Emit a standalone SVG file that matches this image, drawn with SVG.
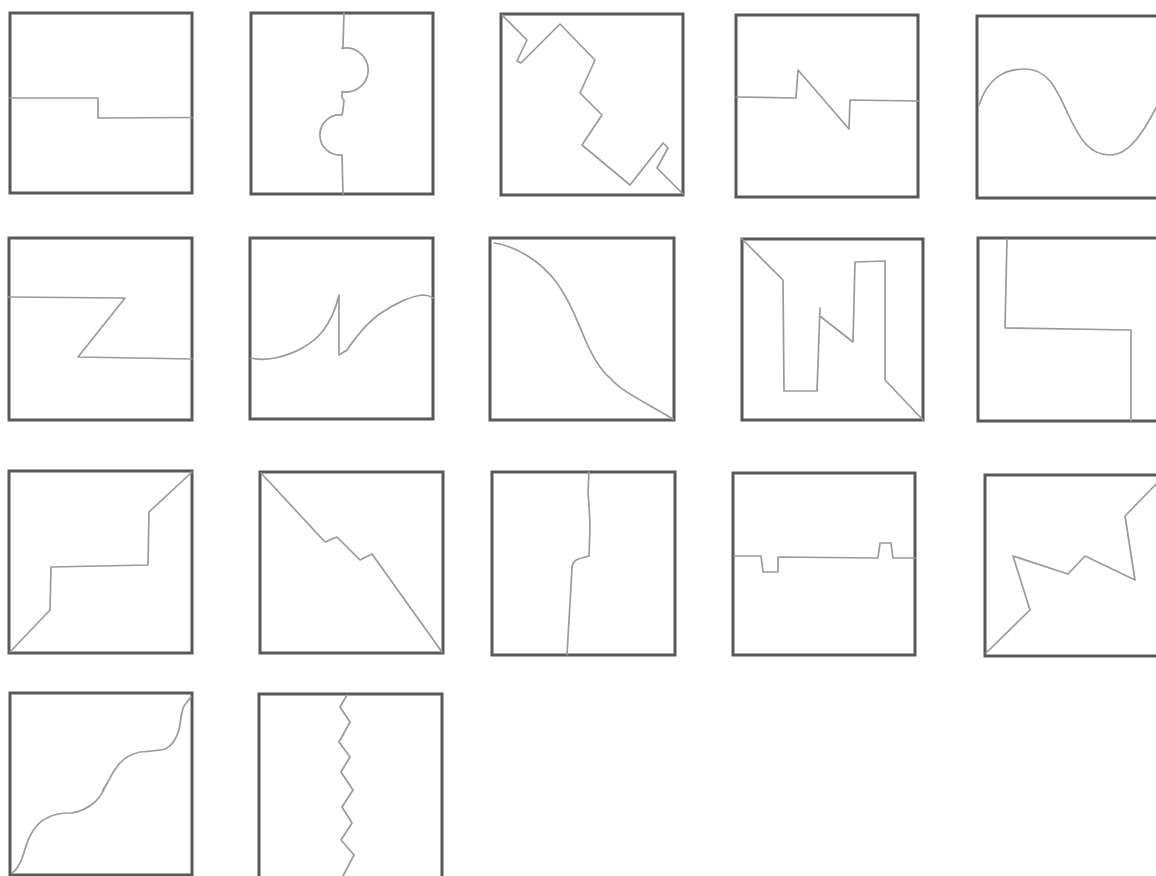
<svg xmlns="http://www.w3.org/2000/svg" width="1156" height="876" viewBox="0 0 1156 876">
<style>
.box{fill:none;stroke:#585858;stroke-width:3}
.ln{fill:none;stroke:#9a9a9a;stroke-width:1.7;stroke-linejoin:round;stroke-linecap:round}
</style>
<rect width="1156" height="876" fill="#ffffff"/>
<g id="sq1"><rect class="box" x="10" y="13" width="182" height="180"/>
<path class="ln" d="M10,98 L98,98 L98,118 L192,117.5"/></g>
<g id="sq2"><rect class="box" x="251" y="13" width="182" height="181"/>
<path class="ln" d="M344,13 L343,46 L342,48.4 A22,22 0 1 1 342,91.6 L342,98 L344,100 L343,110 L342,115 A20.1,20.1 0 1 0 342,155 L343,194"/></g>
<g id="sq3"><rect class="box" x="501" y="14" width="182" height="181"/>
<path class="ln" d="M502,15 L527,40 L517,61 L521,63 L560,24 L595,60 L580,93 L602,115 L582,145 L630,185 L663,143 L668,148 L657,168 L683,194"/></g>
<g id="sq4"><rect class="box" x="736" y="15" width="182" height="182"/>
<path class="ln" d="M736,97 L796,98 L798,70 L849,129 L850,100 L918,101"/></g>
<g id="sq5"><rect class="box" x="977" y="16" width="190" height="182"/>
<path class="ln" d="M979,105 C988,78 1004,69 1025,69 C1048,69 1056,88 1068,114 C1080,140 1090,155 1110,155 C1130,155 1145,130 1160,100"/></g>
<g id="sq6"><rect class="box" x="9" y="238" width="183" height="182"/>
<path class="ln" d="M8,297 L125,298 L78,357 L192,359"/></g>
<g id="sq7"><rect class="box" x="250" y="238" width="183" height="181"/>
<path class="ln" d="M251,358 C258,360 265,360 275,358 C295,354 312,344 322,332 C330,322 336,308 339,295 L339,355 L347,350 C355,338 364,326 378,315 C395,303 412,296 422,295 C427,295 430,296 433,298"/></g>
<g id="sq8"><rect class="box" x="490" y="238" width="184" height="182"/>
<path class="ln" d="M494,243 C515,246 540,260 557,283 C570,301 576,318 582,332 C590,352 598,368 610,378 C622,392 645,402 673,419"/></g>
<g id="sq9"><rect class="box" x="742" y="239" width="181" height="181"/>
<path class="ln" d="M742,239 L783,280 L784,391 L817,391 L820,308 M821,317 L853,342 L855,262 L885,261 L885,380 L923,420"/></g>
<g id="sq10"><rect class="box" x="978" y="238" width="190" height="183"/>
<path class="ln" d="M1007,239 L1005,328 L1131,330 L1131,421"/></g>
<g id="sq11"><rect class="box" x="9" y="471" width="183" height="182"/>
<path class="ln" d="M10,652 L50,610 L51,567 L148,565 L149,512 L192,472"/></g>
<g id="sq12"><rect class="box" x="260" y="472" width="183" height="181"/>
<path class="ln" d="M261,473 L325,542 L337,537 L360,560 L372,554 L442,652"/></g>
<g id="sq13"><rect class="box" x="492" y="472" width="183" height="183"/>
<path class="ln" d="M589,472 L588,493 C589,505 590,518 590,528 L589,556 L578,559 C574,561 572,564 572,568 L567,655"/></g>
<g id="sq14"><rect class="box" x="733" y="473" width="182" height="182"/>
<path class="ln" d="M734,556 L761,556 L763,572 L778,572 L778,557 L878,558 L880,543 L891,543 L893,558 L915,558"/></g>
<g id="sq15"><rect class="box" x="985" y="475" width="190" height="181"/>
<path class="ln" d="M986,653 L1030,610 L1013,556 L1068,574 L1085,556 L1135,580 L1125,516 L1160,480"/></g>
<g id="sq16"><rect class="box" x="10" y="693" width="182" height="182"/>
<path class="ln" d="M12,873 C20,868 23,855 27,843 C32,830 38,822 47,818 C55,813 64,813 71,813 C80,812 88,808 95,802 C100,797 103,792 105,787 L103,790 L108,782 C111,775 114,770 119,764 C125,757 131,754 140,752 C150,751 158,751 165,749 C172,746 176,740 179,730 C181,720 181,712 184,706 C186,703 189,700 191,697"/></g>
<g id="sq17"><rect class="box" x="259" y="694" width="183" height="184"/>
<path class="ln" d="M347,695 L340,707 L350,722 L339,742 L350,757 L341,772 L353,790 L342,807 L352,823 L341,840 L354,855 L343,876"/></g>
</svg>
